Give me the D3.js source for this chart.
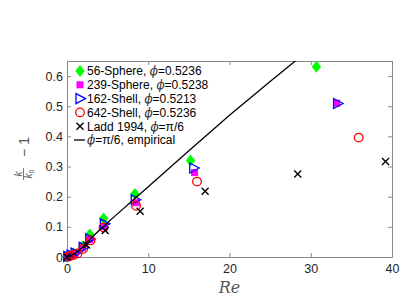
<!DOCTYPE html>
<html>
<head>
<meta charset="utf-8">
<script src="https://cdn.jsdelivr.net/npm/d3@7"></script>
<style>
  body { margin: 0; background: #fff; }
  text { font-family: "Liberation Sans", Arial, sans-serif; }
</style>
</head>
<body>
<div id="chart"></div>
<script>
// data (Re, k/k0 - 1)
var sphere56 = [[0, 0], [0.3, 0.004], [0.8, 0.012], [1.9, 0.035], [2.8, 0.075], [4.5, 0.128], [8.35, 0.209], [15.2, 0.32], [30.7, 0.631]];
var sphere239 = [[0.1, 0.001], [0.5, 0.005], [1.0, 0.012], [1.9, 0.03], [2.8, 0.057], [4.6, 0.10], [8.5, 0.18], [15.7, 0.28], [33.2, 0.51]];
var shell162 = [[0.1, 0.002], [0.5, 0.006], [1.0, 0.013], [2.0, 0.032], [2.8, 0.06], [4.6, 0.11], [8.4, 0.19], [15.6, 0.295], [33.3, 0.509]];
var shell642 = [[0.1, 0.001], [0.4, 0.003], [0.8, 0.007], [1.3, 0.012], [2.0, 0.027], [2.9, 0.055], [4.5, 0.098], [8.5, 0.17], [16.0, 0.25], [35.9, 0.396]];
var ladd = [[0, 0], [2.4, 0.04], [4.7, 0.088], [9.0, 0.152], [17.0, 0.218], [28.4, 0.275], [39.2, 0.317]];
var empirical = [[0, 0], [0.5, 0.004], [1, 0.012], [2, 0.035], [3, 0.064], [4.5, 0.102], [6, 0.138], [8.35, 0.194], [10, 0.233], [15, 0.352], [20, 0.47], [25, 0.582], [28.1, 0.65], [30, 0.692]];

var xTicks = [0, 10, 20, 30, 40];
var yTicks = [0, 0.1, 0.2, 0.3, 0.4, 0.5, 0.6];

var W = 407, H = 303;
var margin = {top: 61, right: 15, bottom: 46, left: 67};
var width = W - margin.left - margin.right;
var height = H - margin.top - margin.bottom;

var svg = d3.select("#chart").append("svg")
    .attr("width", W)
    .attr("height", H);

var g = svg.append("g")
    .attr("transform", "translate(" + margin.left + "," + margin.top + ")");

var x = d3.scaleLinear().domain([0, 40]).range([0, width]);
var y = d3.scaleLinear().domain([0, 0.65]).range([height, 0]);

var axisColor = "#8a8a8a";
var labelColor = "#262626";

// axes, MATLAB style ticks pointing in, box on
function styleAxis(sel) {
    sel.select(".domain").attr("stroke", axisColor);
    sel.selectAll(".tick line").attr("stroke", axisColor);
    sel.selectAll(".tick text").attr("fill", labelColor)
        .style("font-size", "12.5px");
}

g.append("g")
    .attr("transform", "translate(0," + height + ")")
    .call(d3.axisBottom(x).tickValues(xTicks).tickSize(-4).tickPadding(7).tickSizeOuter(0))
    .call(styleAxis);

g.append("g")
    .call(d3.axisLeft(y).tickValues(yTicks).tickSize(-4).tickPadding(4).tickSizeOuter(0)
        .tickFormat(function(d) { return d === 0 ? "0" : d3.format(".1f")(d); }))
    .call(styleAxis);

g.append("g")
    .call(d3.axisTop(x).tickValues(xTicks).tickSize(-4).tickFormat("").tickSizeOuter(0))
    .call(styleAxis);

g.append("g")
    .attr("transform", "translate(" + width + ",0)")
    .call(d3.axisRight(y).tickValues(yTicks).tickSize(-4).tickFormat("").tickSizeOuter(0))
    .call(styleAxis);

// clip the plotted marks to the box
svg.append("defs").append("clipPath").attr("id", "clip")
    .append("rect").attr("x", -6).attr("y", 0).attr("width", width + 12).attr("height", height + 8);

var plot = g.append("g").attr("clip-path", "url(#clip)");

var diamond = "M0,-6L4.7,0L0,6L-4.7,0Z";
var tri = "M-4,-5L5.5,0L-4,5Z";

function drawMarks(data, fn) {
    data.forEach(function(d) {
        fn(plot.append("g").attr("transform", "translate(" + x(d[0]) + "," + y(d[1]) + ")"));
    });
}

function mkDiamond(s) { s.append("path").attr("d", diamond).attr("fill", "#00ff00"); }
function mkSquare(s) { s.append("rect").attr("x", -3.5).attr("y", -3.5).attr("width", 7).attr("height", 7).attr("fill", "#ff00ff"); }
function mkTri(s) { s.append("path").attr("d", tri).attr("fill", "none").attr("stroke", "#0000ff").attr("stroke-width", 1.3); }
function mkCircle(s) { s.append("circle").attr("r", 4.3).attr("fill", "none").attr("stroke", "#ff0000").attr("stroke-width", 1.3); }
function mkCross(s) {
    s.append("path").attr("d", "M-3.5,-3.5L3.5,3.5M-3.5,3.5L3.5,-3.5")
        .attr("stroke", "#000").attr("stroke-width", 1.4);
}

drawMarks(sphere56, mkDiamond);
drawMarks(sphere239, mkSquare);
drawMarks(shell162, mkTri);
drawMarks(shell642, mkCircle);
drawMarks(ladd, mkCross);

var line = d3.line()
    .x(function(d) { return x(d[0]); })
    .y(function(d) { return y(d[1]); });

g.append("clipPath").attr("id", "clipLine")
    .append("rect").attr("width", width).attr("height", height + 2);

g.append("path")
    .datum(empirical)
    .attr("clip-path", "url(#clipLine)")
    .attr("d", line)
    .attr("fill", "none")
    .attr("stroke", "#000")
    .attr("stroke-width", 1.3);

// legend
var legendItems = [
    {name: "56-Sphere, ", phi: "=0.5236", mk: mkDiamond},
    {name: "239-Sphere, ", phi: "=0.5238", mk: mkSquare},
    {name: "162-Shell, ", phi: "=0.5213", mk: mkTri},
    {name: "642-Shell, ", phi: "=0.5236", mk: mkCircle},
    {name: "Ladd 1994, ", phi: "=\u03c0/6", mk: mkCross},
    {name: "", phi: "=\u03c0/6, empirical", mk: null}
];

var legend = g.append("g").attr("transform", "translate(13,10)");
legendItems.forEach(function(d, i) {
    var row = legend.append("g").attr("transform", "translate(0," + (i * 13.8) + ")");
    if (d.mk) {
        d.mk(row.append("g"));
    } else {
        row.append("line").attr("x1", -6).attr("x2", 5).attr("stroke", "#000").attr("stroke-width", 1.3);
    }
    var t = row.append("text").attr("x", 7).attr("y", 4.3)
        .style("font-size", "12px").attr("fill", "#000");
    t.append("tspan").text(d.name);
    t.append("tspan").text("\u03d5")
        .style("font-family", "'DejaVu Serif', serif").style("font-style", "italic").attr("fill", "#333");
    t.append("tspan").text(d.phi);
});

// x label
svg.append("text")
    .attr("x", margin.left + width / 2)
    .attr("y", 293)
    .attr("text-anchor", "middle")
    .style("font-family", "'DejaVu Serif', serif")
    .style("font-style", "italic")
    .style("font-size", "16px")
    .attr("fill", "#555")
    .text("Re");

// y label: k/k0 - 1 as a rotated fraction
var yl = svg.append("g")
    .attr("transform", "translate(27,158) rotate(-90)")
    .attr("fill", "#555")
    .style("font-family", "'DejaVu Serif', serif");
yl.append("text").attr("x", -16).attr("y", -5).attr("text-anchor", "middle")
    .style("font-style", "italic").style("font-size", "10px").text("k");
yl.append("line").attr("x1", -22).attr("x2", -10).attr("y1", -3.5).attr("y2", -3.5)
    .attr("stroke", "#555").attr("stroke-width", 0.8);
var den = yl.append("text").attr("x", -16).attr("y", 5).attr("text-anchor", "middle")
    .style("font-size", "10px");
den.append("tspan").style("font-style", "italic").text("k");
den.append("tspan").attr("dy", 2).style("font-size", "7px").text("0");
yl.append("text").attr("x", 11).attr("y", 2).attr("text-anchor", "middle")
    .style("font-size", "14px").text("\u2212 1");
</script>
</body>
</html>
